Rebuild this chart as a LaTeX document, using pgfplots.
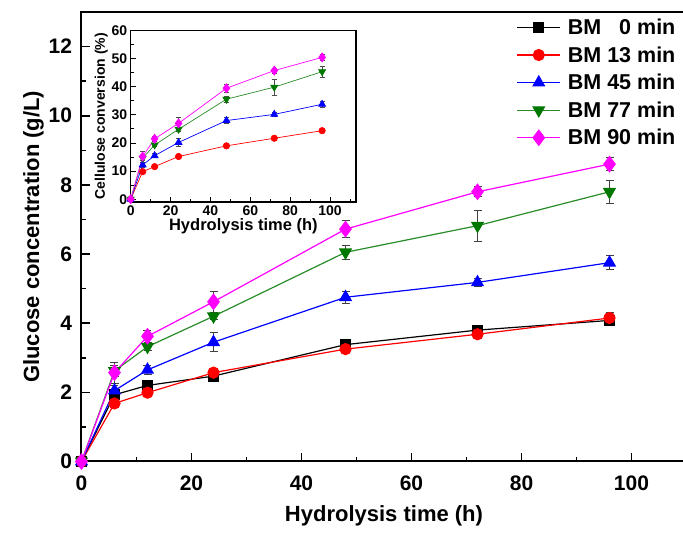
\documentclass[border=0pt]{standalone}
\usepackage{fontspec}
\setmainfont{Liberation Sans}
\usepackage{pgfplots}
\pgfplotsset{compat=1.18}
\usepackage{pgfplotstable}
\definecolor{mgreen}{RGB}{0,120,0}
\definecolor{lgreen}{RGB}{40,140,40}
\definecolor{mmag}{RGB}{255,0,255}

% main data: time, glucose (g/L), error
\pgfplotstableread{
x y e
0 0 0
6 1.93 0.1
12 2.2 0.1
24 2.47 0.1
48 3.38 0.15
72 3.8 0.1
96 4.08 0.15
}\bmA
\pgfplotstableread{
x y e
0 0 0
6 1.68 0.07
12 1.99 0.07
24 2.57 0.1
48 3.25 0.08
72 3.68 0.12
96 4.15 0.15
}\bmB
\pgfplotstableread{
x y e
0 0 0
6 2.05 0.15
12 2.65 0.12
24 3.45 0.28
48 4.75 0.18
72 5.18 0.12
96 5.75 0.2
}\bmC
\pgfplotstableread{
x y e
0 0 0
6 2.62 0.15
12 3.32 0.1
24 4.2 0.1
48 6.05 0.2
72 6.82 0.45
96 7.8 0.33
}\bmD
\pgfplotstableread{
x y e
0 0 0
6 2.57 0.3
12 3.62 0.18
24 4.62 0.3
48 6.72 0.25
72 7.8 0.15
96 8.6 0.19
}\bmE
% inset data: cellulose conversion (%)
\pgfplotstableread{
x y e
0 0 0
6 9.8 0.5
12 11.6 0.5
24 15.2 0.6
48 19.0 0.5
72 21.7 0.6
96 24.4 0.6
}\inB
\pgfplotstableread{
x y e
0 0 0
6 12.2 0.8
12 15.5 0.7
24 20.2 1.5
48 28.0 1.0
72 30.2 0.8
96 33.8 1.0
}\inC
\pgfplotstableread{
x y e
0 0 0
6 14.6 0.8
12 19.3 0.6
24 24.9 0.6
48 35.6 1.2
72 39.9 2.8
96 45.4 2.0
}\inD
\pgfplotstableread{
x y e
0 0 0
6 15.2 2.0
12 21.5 1.0
24 27.0 2.0
48 39.5 1.5
72 45.8 0.8
96 50.5 1.0
}\inE

\pgfplotsset{
  ebars/.style={
    error bars/.cd, y dir=both, y explicit,
    error bar style={black!75, line width=#1},
    error mark options={rotate=90, black!75, line width=#1, mark size=4pt}
  },
  iebars/.style={
    error bars/.cd, y dir=both, y explicit,
    error bar style={black!70, line width=0.6pt},
    error mark options={rotate=90, black!70, line width=0.6pt, mark size=2.5pt}
  },
}

\begin{document}
\begin{tikzpicture}
\useasboundingbox (0,0) rectangle (683pt,533pt);
\begin{axis}[
  at={(81.5pt,71.5pt)}, anchor=south west,
  scale only axis, width=605pt, height=449.5pt,
  xmin=0, xmax=110, ymin=0, ymax=13,
  xtick={0,20,...,100}, minor xtick={10,30,...,110},
  ytick={0,2,...,12}, minor ytick={1,3,...,11},
  tick align=inside, tick pos=left,
  major tick length=8pt, minor tick length=4.5pt,
  every tick/.style={black, line width=1.6pt},
  axis line style={line width=2pt},
  /pgf/number format/assume math mode=true,
  tick label style={font=\fontsize{21}{21}\selectfont\bfseries},
  xticklabel style={yshift=-11pt},
  yticklabel style={xshift=-6pt},
  xlabel={Hydrolysis time (h)},
  ylabel={Glucose concentration (g/L)},
  label style={font=\fontsize{22}{24}\selectfont\bfseries},
  xlabel style={yshift=-8pt},
  ylabel style={yshift=-2pt},
  legend style={at={(rel axis cs:0.714,0.994)}, anchor=north west, draw=none, fill=none,
    font=\fontsize{21.5}{21.5}\selectfont\bfseries, row sep=6.5pt},
  legend cell align=left,
  legend image code/.code={\draw[mark repeat=2,mark phase=2,#1] plot coordinates {(0pt,0pt) (21.5pt,0pt) (43pt,0pt)}; \path (48pt,0pt);},
]
\addplot[black, line width=1.2pt, mark=square*, mark size=5pt, ebars=1pt] table[x=x,y=y,y error=e]{\bmA};
\addlegendentry{BM \phantom{1}0 min}
\addplot[red, line width=1.2pt, mark=*, mark size=5.5pt, ebars=1pt] table[x=x,y=y,y error=e]{\bmB};
\addlegendentry{BM 13 min}
\addplot[blue, line width=1.2pt, mark=triangle*, mark size=6.5pt, ebars=1pt] table[x=x,y=y,y error=e]{\bmC};
\addlegendentry{BM 45 min}
\addplot[lgreen, line width=1.2pt, mark=triangle*, mark size=6.5pt, mark options={rotate=180, fill=mgreen, draw=mgreen}, ebars=1pt] table[x=x,y=y,y error=e]{\bmD};
\addlegendentry{BM 77 min}
\addplot[mmag, line width=1.2pt, mark=diamond*, mark size=7.5pt, ebars=1pt] table[x=x,y=y,y error=e]{\bmE};
\addlegendentry{BM 90 min}
\end{axis}

\begin{axis}[
  at={(130.7pt,331pt)}, anchor=south west,
  scale only axis, width=225.3pt, height=171.3pt,
  xmin=0, xmax=113, ymin=-1, ymax=60,
  xtick={0,20,...,100}, minor xtick={10,30,...,110},
  ytick={0,10,...,60}, minor ytick={5,15,...,55},
  tick align=inside, tick pos=left,
  major tick length=5pt, minor tick length=3pt,
  every tick/.style={black, line width=1pt},
  axis line style={line width=1.5pt},
  axis background/.style={fill=white},
  /pgf/number format/assume math mode=true,
  tick label style={font=\fontsize{14}{14}\selectfont\bfseries},
  xlabel={Hydrolysis time (h)},
  ylabel={Cellulose conversion (\%)},
  xlabel style={font=\fontsize{16.5}{17}\selectfont\bfseries, yshift=4pt},
  ylabel style={font=\fontsize{14}{15}\selectfont\bfseries, yshift=-3pt},
]
\addplot[red, line width=0.7pt, mark=*, mark size=3.2pt, iebars] table[x=x,y=y,y error=e]{\inB};
\addplot[blue, line width=0.7pt, mark=triangle*, mark size=4pt, iebars] table[x=x,y=y,y error=e]{\inC};
\addplot[lgreen, line width=0.7pt, mark=triangle*, mark size=4pt, mark options={rotate=180, fill=mgreen, draw=mgreen}, iebars] table[x=x,y=y,y error=e]{\inD};
\addplot[mmag, line width=0.7pt, mark=diamond*, mark size=4.5pt, iebars] table[x=x,y=y,y error=e]{\inE};
\end{axis}
\end{tikzpicture}
\end{document}
